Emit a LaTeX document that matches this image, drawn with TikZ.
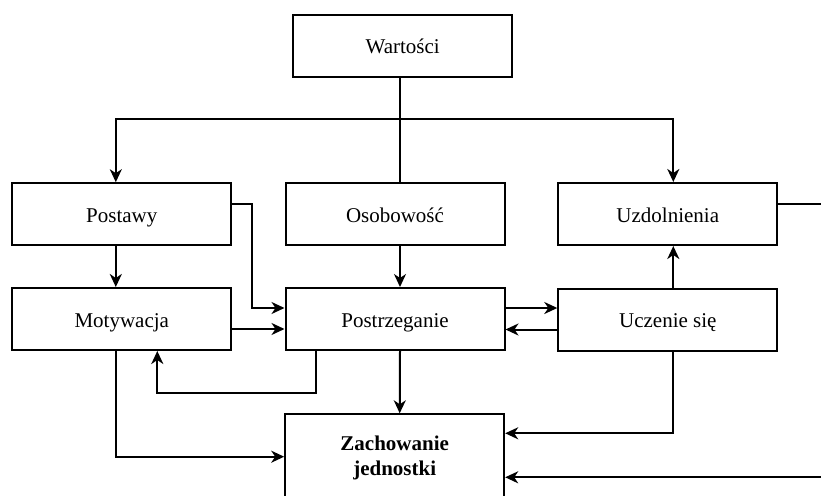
\documentclass[tikz,border=0pt]{standalone}
\usepackage{fontspec}
\setmainfont{Liberation Serif}
\usetikzlibrary{arrows.meta}

\begin{document}
\begin{tikzpicture}[x=1pt,y=-1pt,line width=2pt,
    >={Stealth[length=13pt,width=12pt,inset=4pt]},
    box/.style={draw,minimum width=219pt,minimum height=62pt,inner sep=0pt,
        text height=20pt,text depth=4pt,font=\fontsize{21}{25}\selectfont}]
        \useasboundingbox (0,0) rectangle (821,495);
        \clip (0,0) rectangle (821,495);
        \node[box] (wartosci) at (402.7,46) {Wartości};
        \node[box] (postawy) at (121.8,214.2) {Postawy};
        \node[box] (osobowosc) at (395,214) {Osobowość};
        \node[box] (uzdolnienia) at (667.8,214) {Uzdolnienia};
        \node[box] (motywacja) at (121.8,319) {Motywacja};
        \node[box] (postrzeganie) at (395,319) {Postrzeganie};
        \node[box] (uczenie) at (667.8,319.5) {Uczenie się};
        \node[box,minimum height=88pt,text height=,text depth=,align=center,
            font=\fontsize{21}{25}\selectfont\bfseries]
            (zachowanie) at (394.7,458.3) {Zachowanie\\jednostki};
        \coordinate (branch) at (400,119.3);
        \draw (wartosci.south -| branch) -- (osobowosc.north -| branch);
        \draw[->] (branch) -| ([xshift=-6pt]postawy.north);
        \draw[->] (branch) -| ([xshift=5.5pt]uzdolnienia.north);
        \draw[->] ([xshift=-6pt]postawy.south) -- ([xshift=-6pt]motywacja.north);
        \draw[->] ([yshift=10pt]postawy.east) -- ++(20,0) |- ([yshift=11pt]postrzeganie.west);
        \draw[->] ([yshift=-10pt]motywacja.east) -- ([yshift=-10pt]motywacja.east -| postrzeganie.west);
        \draw[->] ([xshift=5pt]osobowosc.south) -- ([xshift=5pt]postrzeganie.north);
        \draw[->] ([yshift=11pt]postrzeganie.east) -- ([yshift=11pt]postrzeganie.east -| uczenie.west);
        \draw[->] ([yshift=-10pt]uczenie.west) -- ([yshift=-10pt]uczenie.west -| postrzeganie.east);
        \draw[->] ([xshift=5.5pt]uczenie.north) -- ([xshift=5.5pt]uzdolnienia.south);
        \draw[->] ([xshift=-79pt]postrzeganie.south) -- ++(0,41.6) -| ([xshift=35.5pt]motywacja.south);
        \draw[->] ([xshift=5pt]postrzeganie.south) -- ([xshift=5pt]zachowanie.north);
        \draw[->] ([xshift=5.5pt]uczenie.south) |- ([yshift=25pt]zachowanie.east);
        \draw[->] ([xshift=-6pt]motywacja.south) |- ([yshift=1.6pt]zachowanie.west);
        \draw[->] ([yshift=10pt]uzdolnienia.east) -- ++(60,0) |- ([yshift=-19pt]zachowanie.east);
    \end{tikzpicture}
\end{document}
